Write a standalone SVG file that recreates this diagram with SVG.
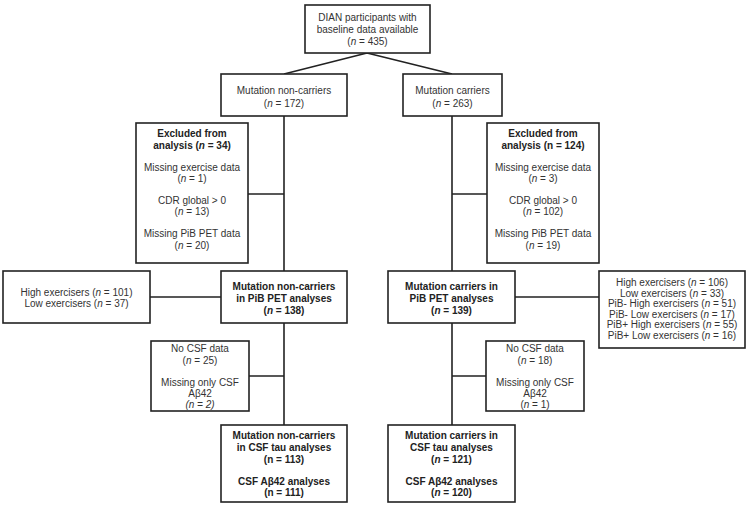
<svg xmlns="http://www.w3.org/2000/svg" width="750" height="507" viewBox="0 0 750 507">
<style>
.box{fill:#fff;stroke:#222;stroke-width:1.6}
.ln{fill:none;stroke:#222;stroke-width:1.6}
text{font-family:"Liberation Sans",Arial,sans-serif;font-size:10px;fill:#333;text-anchor:middle}
.b{font-weight:bold;fill:#222}
.i{font-style:italic}
</style>
<rect width="750" height="507" fill="#fff"/>
<g id="connectors">
<path class="ln" d="M367,53 L284,74 M367,53 L452,74"/>
<path class="ln" d="M284,116 V271 M248,194 H284 M150,297 H221 M284,323 V425 M249,376 H284"/>
<path class="ln" d="M452,116 V271 M452,194 H487 M515,297 H599 M452,323 V425 M452,376 H486"/>
</g>
<g id="n_all">
<rect class="box" x="305" y="5" width="125" height="48"/>
<text x="367.5" y="21">DIAN participants with</text>
<text x="367.5" y="33">baseline data available</text>
<text x="367.5" y="45">(<tspan class="i">n</tspan> = 435)</text>
</g>
<g id="n_noncarriers">
<rect class="box" x="221" y="74" width="126" height="42"/>
<text x="284" y="94">Mutation non-carriers</text>
<text x="284" y="107">(<tspan class="i">n</tspan> = 172)</text>
</g>
<g id="n_carriers">
<rect class="box" x="403" y="74" width="99" height="42"/>
<text x="452.5" y="94">Mutation carriers</text>
<text x="452.5" y="107">(<tspan class="i">n</tspan> = 263)</text>
</g>
<g id="n_excl_left">
<rect class="box" x="136" y="123" width="112" height="140"/>
<text class="b" x="192" y="137">Excluded from</text>
<text class="b" x="192" y="148.5">analysis (<tspan class="i">n</tspan> = 34)</text>
<text x="192" y="171">Missing exercise data</text>
<text x="192" y="182">(<tspan class="i">n</tspan> = 1)</text>
<text x="192" y="204">CDR global &gt; 0</text>
<text x="192" y="215">(<tspan class="i">n</tspan> = 13)</text>
<text x="192" y="237">Missing PiB PET data</text>
<text x="192" y="248.5">(<tspan class="i">n</tspan> = 20)</text>
</g>
<g id="n_excl_right">
<rect class="box" x="487" y="123" width="112" height="140"/>
<text class="b" x="543" y="137">Excluded from</text>
<text class="b" x="543" y="148.5">analysis (n = 124)</text>
<text x="543" y="171">Missing exercise data</text>
<text x="543" y="182">(<tspan class="i">n</tspan> = 3)</text>
<text x="543" y="204">CDR global &gt; 0</text>
<text x="543" y="215">(<tspan class="i">n</tspan> = 102)</text>
<text x="543" y="237">Missing PiB PET data</text>
<text x="543" y="248.5">(<tspan class="i">n</tspan> = 19)</text>
</g>
<g id="n_ex_left">
<rect class="box" x="3" y="271" width="147" height="52"/>
<text x="76.5" y="296">High exercisers (<tspan class="i">n</tspan> = 101)</text>
<text x="76.5" y="307">Low exercisers (<tspan class="i">n</tspan> = 37)</text>
</g>
<g id="n_pib_noncarriers">
<rect class="box" x="221" y="271" width="126" height="52"/>
<text class="b" x="284" y="290">Mutation non-carriers</text>
<text class="b" x="284" y="302">in PiB PET analyses</text>
<text class="b" x="284" y="313.5">(<tspan class="i">n</tspan> = 138)</text>
</g>
<g id="n_pib_carriers">
<rect class="box" x="388" y="271" width="127" height="52"/>
<text class="b" x="451.5" y="290">Mutation carriers in</text>
<text class="b" x="451.5" y="302">PiB PET analyses</text>
<text class="b" x="451.5" y="313.5">(<tspan class="i">n</tspan> = 139)</text>
</g>
<g id="n_ex_right">
<rect class="box" x="599" y="271" width="146" height="77"/>
<text x="672" y="286">High exercisers (<tspan class="i">n</tspan> = 106)</text>
<text x="672" y="296.5">Low exercisers (<tspan class="i">n</tspan> = 33)</text>
<text x="672" y="307">PiB- High exercisers (<tspan class="i">n</tspan> = 51)</text>
<text x="672" y="317.5">PiB- Low exercisers (<tspan class="i">n</tspan> = 17)</text>
<text x="672" y="328">PiB+ High exercisers  (<tspan class="i">n</tspan> = 55)</text>
<text x="672" y="338.5">PiB+ Low exercisers (<tspan class="i">n</tspan> = 16)</text>
</g>
<g id="n_csf_excl_left">
<rect class="box" x="151" y="341" width="98" height="70"/>
<text x="200" y="352">No CSF data</text>
<text x="200" y="363.5">(<tspan class="i">n</tspan> = 25)</text>
<text x="200" y="386">Missing only CSF</text>
<text x="200" y="397">Aβ42</text>
<text class="i" x="200" y="408">(n = 2)</text>
</g>
<g id="n_csf_excl_right">
<rect class="box" x="486" y="341" width="98" height="70"/>
<text x="535" y="352">No CSF data</text>
<text x="535" y="363.5">(<tspan class="i">n</tspan> = 18)</text>
<text x="535" y="386">Missing only CSF</text>
<text x="535" y="397">Aβ42</text>
<text x="535" y="408">(<tspan class="i">n</tspan> = 1)</text>
</g>
<g id="n_csf_noncarriers">
<rect class="box" x="221" y="425" width="126" height="77"/>
<text class="b" x="284" y="439">Mutation non-carriers</text>
<text class="b" x="284" y="451">in CSF tau analyses</text>
<text class="b" x="284" y="462.5">(n = 113)</text>
<text class="b" x="284" y="485">CSF Aβ42 analyses</text>
<text class="b" x="284" y="496">(n = 111)</text>
</g>
<g id="n_csf_carriers">
<rect class="box" x="388" y="425" width="127" height="77"/>
<text class="b" x="451.5" y="439">Mutation carriers in</text>
<text class="b" x="451.5" y="451">CSF tau analyses</text>
<text class="b" x="451.5" y="462.5">(<tspan class="i">n</tspan> = 121)</text>
<text class="b" x="451.5" y="485">CSF Aβ42 analyses</text>
<text class="b" x="451.5" y="496">(<tspan class="i">n</tspan> = 120)</text>
</g>
</svg>
